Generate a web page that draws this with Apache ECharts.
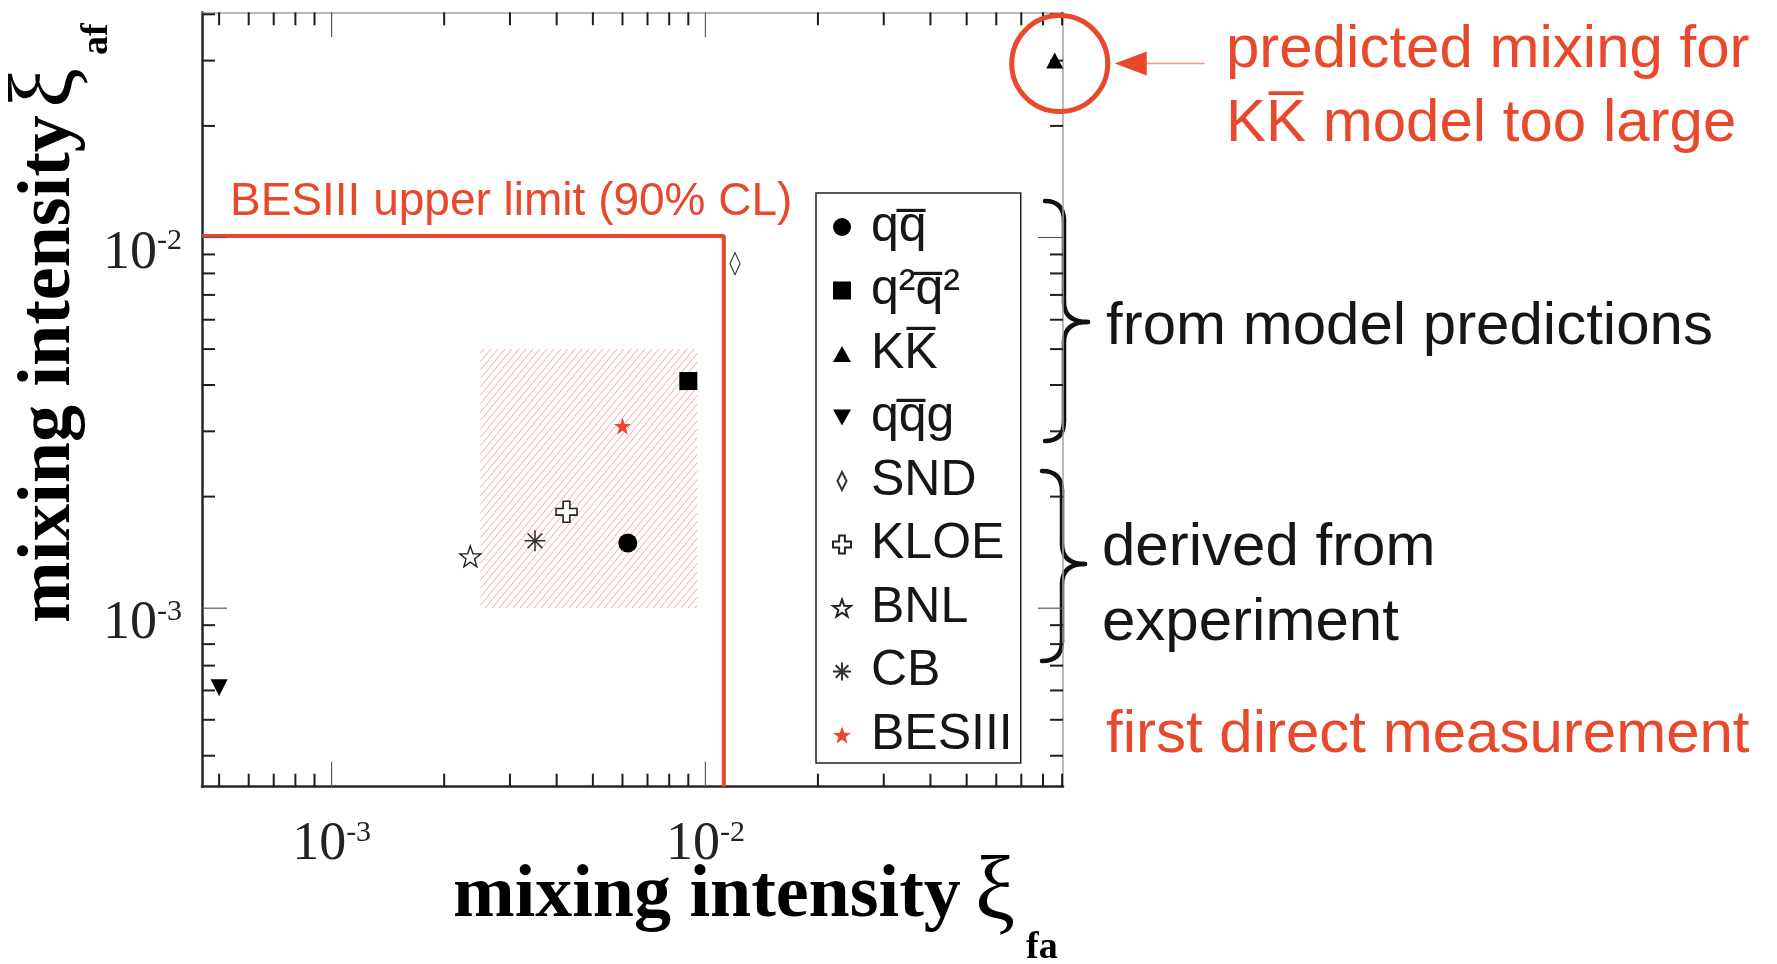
<!DOCTYPE html>
<html>
<head>
<meta charset="utf-8">
<title>Mixing intensities</title>
<script src="https://cdn.jsdelivr.net/npm/echarts@6/dist/echarts.min.js"></script>
<style>
  html, body { margin: 0; padding: 0; background: #ffffff; }
  #chart { width: 1777px; height: 964px; }
</style>
</head>
<body>
<div id="chart"></div>
<script>
// ---- values -------------------------------------------------------------
// legend names (model predictions first, then experiment-derived values)
const seriesNames = ['qq\u0305', 'q\u00b2q\u0305\u00b2', 'KK\u0305', 'qq\u0305g', 'SND', 'KLOE', 'BNL', 'CB', 'BESIII'];
// mixing intensity xi_fa (x) and xi_af (y) for each entry
const xiFa = [6.2e-3, 9.0e-3, 0.086, 5.0e-4, 0.0120, 4.25e-3, 2.35e-3, 3.5e-3, 6.0e-3];
const xiAf = [1.5e-3, 4.1e-3, 0.030, 6.1e-4, 8.5e-3, 1.82e-3, 1.38e-3, 1.52e-3, 3.1e-3];
// BESIII 90% CL upper limits
const limitXiFa = 0.0112;
const limitXiAf = 0.0101;
// BESIII measured region (hatched)
const bandXiFa = [2.5e-3, 9.5e-3];
const bandXiAf = [1.0e-3, 5.0e-3];
// axis ranges
const X_RANGE = [4.5e-4, 0.0905];
const Y_RANGE = [3.3e-4, 0.0405];
// tick positions on the log axes
const xTickValues = [5e-4, 6e-4, 7e-4, 8e-4, 9e-4, 1e-3, 2e-3, 3e-3, 4e-3, 5e-3, 6e-3, 7e-3, 8e-3, 9e-3,
                     1e-2, 2e-2, 3e-2, 4e-2, 5e-2, 6e-2, 7e-2, 8e-2, 9e-2];
const yTickValues = [4e-4, 5e-4, 6e-4, 7e-4, 8e-4, 9e-4, 1e-3, 2e-3, 3e-3, 4e-3, 5e-3, 6e-3, 7e-3, 8e-3, 9e-3,
                     1e-2, 2e-2, 3e-2, 4e-2];

// ---- styles -------------------------------------------------------------
const RED = '#e8482b';
const INK = '#161616';
const SANS = 'Liberation Sans';
const SERIF = 'Liberation Serif';

const STAR = 'path://M50,0 L61.76,33.82 L97.55,34.55 L69.02,56.18 L79.39,90.45 L50,70 L20.61,90.45 L30.98,56.18 L2.45,34.55 L38.24,33.82 Z';
const CROSS = 'path://M34,0 L66,0 L66,34 L100,34 L100,66 L66,66 L66,100 L34,100 L34,66 L0,66 L0,34 L34,34 Z';
const ASTER = 'path://M50,0 L50,100 M0,50 L100,50 M15,15 L85,85 M85,15 L15,85';
const SQUARE = 'path://M0,0 L100,0 L100,100 L0,100 Z';
const TRI = 'path://M50,0 L100,90 L0,90 Z';
const INV_TRI = 'path://M0,0 L100,0 L50,90 Z';
const THIN_DIAMOND = 'path://M25,0 L50,50 L25,100 L0,50 Z';

const markerStyles = [
  { symbol: 'circle',     size: 19,       fill: '#000' },
  { symbol: SQUARE,       size: 18,       fill: '#000' },
  { symbol: TRI,          size: [17, 16], fill: '#000' },
  { symbol: INV_TRI,      size: [17, 17], fill: '#000' },
  { symbol: THIN_DIAMOND, size: [10, 22], fill: '#fff', stroke: '#333', width: 1.3 },
  { symbol: CROSS,        size: 21,       fill: '#fff', stroke: '#222', width: 1.6 },
  { symbol: STAR,         size: 21,       fill: '#fff', stroke: '#222', width: 1.4 },
  { symbol: ASTER,        size: 21,       fill: 'transparent', stroke: '#333', width: 1.6 },
  { symbol: STAR,         size: 17,       fill: RED }
];

function isDecade(v) {
  const e = Math.log10(v);
  return Math.abs(e - Math.round(e)) < 1e-6;
}

function decadeLabel(v) {
  if (!isDecade(v)) return '';
  return '{b|10}{s|' + Math.round(Math.log10(v)) + '}';
}

const tickRich = {
  b: { fontFamily: SERIF, fontSize: 54, lineHeight: 54, color: '#222', verticalAlign: 'bottom' },
  s: { fontFamily: SERIF, fontSize: 30, lineHeight: 30, color: '#222', verticalAlign: 'top' }
};

// ---- chart --------------------------------------------------------------
const chart = echarts.init(document.getElementById('chart'), null, { renderer: 'canvas' });

const scatterSeries = seriesNames.map((name, i) => {
  const m = markerStyles[i];
  return {
    type: 'scatter',
    name: name,
    data: [[xiFa[i], xiAf[i]]],
    symbol: m.symbol,
    symbolSize: m.size,
    itemStyle: {
      color: m.fill,
      borderColor: m.stroke || m.fill,
      borderWidth: m.stroke ? m.width : 0,
      opacity: 1
    },
    z: 6,
    silent: true
  };
});

const option = {
  backgroundColor: '#ffffff',
  animation: false,
  grid: { left: 202, right: 714, top: 12.3, bottom: 177.3, containLabel: false, outerBoundsMode: 'none' },
  xAxis: [
    {
      type: 'log', logBase: 10, min: X_RANGE[0], max: X_RANGE[1], position: 'bottom',
      axisLine: { show: true, onZero: false, lineStyle: { color: '#262626', width: 2.5 } },
      axisTick: { show: false }, minorTick: { show: false }, splitLine: { show: false },
      axisLabel: { formatter: decadeLabel, margin: 31, fontFamily: SERIF, fontSize: 54, color: '#222', rich: tickRich }
    },
    {
      type: 'log', logBase: 10, min: X_RANGE[0], max: X_RANGE[1], position: 'top',
      axisLine: { show: true, onZero: false, lineStyle: { color: '#a3a3a3', width: 1.5 } },
      axisTick: { show: false }, axisLabel: { show: false }, splitLine: { show: false }
    }
  ],
  yAxis: [
    {
      type: 'log', logBase: 10, min: Y_RANGE[0], max: Y_RANGE[1], position: 'left',
      axisLine: { show: true, onZero: false, lineStyle: { color: '#262626', width: 2.5 } },
      axisTick: { show: false }, minorTick: { show: false }, splitLine: { show: false },
      axisLabel: { formatter: decadeLabel, margin: 20, padding: [32, 0, 0, 0], fontFamily: SERIF, fontSize: 54, color: '#222', rich: tickRich }
    },
    {
      type: 'log', logBase: 10, min: Y_RANGE[0], max: Y_RANGE[1], position: 'right',
      axisLine: { show: true, onZero: false, lineStyle: { color: '#a3a3a3', width: 1.5 } },
      axisTick: { show: false }, axisLabel: { show: false }, splitLine: { show: false }
    }
  ],
  legend: {
    orient: 'vertical',
    left: 816, top: 193,
    padding: [9, 8, 3, 16],
    itemGap: 13.5,
    itemWidth: 18, itemHeight: 18,
    selectedMode: false,
    backgroundColor: '#ffffff',
    borderColor: '#222', borderWidth: 1.5, borderRadius: 0,
    textStyle: { fontFamily: SANS, fontSize: 50, lineHeight: 50, color: INK, padding: [0, 0, 0, 15] },
    data: seriesNames.map((name, i) => ({ name: name, icon: markerStyles[i].symbol }))
  },
  series: [
    // hatched BESIII region
    {
      type: 'custom', name: 'band', silent: true, z: 1,
      encode: { x: [0, 2], y: [1, 3] },
      data: [[bandXiFa[0], bandXiAf[0], bandXiFa[1], bandXiAf[1]]],
      renderItem: (params, api) => {
        const p0 = api.coord([api.value(0), api.value(1)]);
        const p1 = api.coord([api.value(2), api.value(3)]);
        const L = Math.min(p0[0], p1[0]), R = Math.max(p0[0], p1[0]);
        const T = Math.min(p0[1], p1[1]), B = Math.max(p0[1], p1[1]);
        const k = 1.2, gap = 7;
        const children = [];
        for (let c = T + k * L + gap * k * 0.5; c < B + k * R; c += gap * k) {
          const xa = Math.max(L, (c - B) / k);
          const xb = Math.min(R, (c - T) / k);
          if (xb <= xa) continue;
          children.push({
            type: 'line',
            shape: { x1: xa, y1: c - k * xa, x2: xb, y2: c - k * xb },
            style: { stroke: 'rgba(236,110,96,0.6)', lineWidth: 1 }
          });
        }
        return { type: 'group', children: children };
      }
    },
    // BESIII upper limit
    {
      type: 'line', name: 'limit', silent: true, z: 3, clip: false,
      symbol: 'none', showSymbol: false,
      lineStyle: { color: RED, width: 4 },
      data: [[X_RANGE[0], limitXiAf], [limitXiFa, limitXiAf], [limitXiFa, Y_RANGE[0]]]
    },
    // ticks along bottom and top
    {
      type: 'custom', name: 'xticks', silent: true, z: 4,
      data: xTickValues.map(v => [v, Y_RANGE[0]]),
      renderItem: (params, api) => {
        const cs = params.coordSys;
        const v = api.value(0);
        const px = api.coord([v, Y_RANGE[0]])[0];
        const major = isDecade(v);
        const len = major ? 25 : 13;
        const style = major ? { stroke: '#5a5a5a', lineWidth: 1.2 } : { stroke: '#1e1e1e', lineWidth: 2 };
        const yb = cs.y + cs.height, yt = cs.y;
        return { type: 'group', children: [
          { type: 'line', shape: { x1: px, y1: yb, x2: px, y2: yb - len }, style: style },
          { type: 'line', shape: { x1: px, y1: yt, x2: px, y2: yt + len }, style: style }
        ] };
      }
    },
    // ticks along left and right
    {
      type: 'custom', name: 'yticks', silent: true, z: 4,
      data: yTickValues.map(v => [X_RANGE[0], v]),
      renderItem: (params, api) => {
        const cs = params.coordSys;
        const v = api.value(1);
        const py = api.coord([X_RANGE[0], v])[1];
        const major = isDecade(v);
        const len = major ? 25 : 13;
        const style = major ? { stroke: '#5a5a5a', lineWidth: 1.2 } : { stroke: '#1e1e1e', lineWidth: 2 };
        const xl = cs.x, xr = cs.x + cs.width;
        return { type: 'group', children: [
          { type: 'line', shape: { x1: xl, y1: py, x2: xl + len, y2: py }, style: style },
          { type: 'line', shape: { x1: xr, y1: py, x2: xr - len, y2: py }, style: style }
        ] };
      }
    }
  ].concat(scatterSeries)
};

chart.setOption(option);

// ---- annotations --------------------------------------------------------
function txt(text, x, y, size, color, weight, family) {
  return {
    type: 'text', x: x, y: y, silent: true, z: 50,
    style: {
      text: text, fill: color, fontSize: size, fontFamily: family || SANS, fontWeight: weight || 'normal',
      textAlign: 'left', verticalAlign: 'middle', textVerticalAlign: 'middle'
    }
  };
}

// curly brace opening to the left, tip pointing right
function brace(x0, y0, y1, xs, xt, ym) {
  const r = 20;
  const st = { fill: 'none', stroke: '#111', lineWidth: 4.5, lineCap: 'round' };
  const q = (x1, y1, cx, cy, x2, y2) => ({ type: 'bezierCurve', shape: { x1: x1, y1: y1, cpx1: cx, cpy1: cy, x2: x2, y2: y2 }, style: st });
  const l = (x1, y1, x2, y2) => ({ type: 'line', shape: { x1: x1, y1: y1, x2: x2, y2: y2 }, style: st });
  return {
    type: 'group', silent: true, z: 50,
    children: [
      q(x0, y0, xs, y0, xs, y0 + r),
      l(xs, y0 + r, xs, ym - r),
      q(xs, ym - r, xs, ym, xt, ym),
      q(xt, ym, xs, ym, xs, ym + r),
      l(xs, ym + r, xs, y1 - r),
      q(xs, y1 - r, xs, y1, x0, y1)
    ]
  };
}

// circle around the K-Kbar prediction
const kk = chart.convertToPixel({ gridIndex: 0 }, [xiFa[2], xiAf[2]]);
const cx = kk[0] + 5, cy = kk[1] + 3;

const graphics = [
  // axis titles
  txt('mixing intensity', 453, 897, 74, '#000', 'bold', SERIF),
  txt('\u03be', 975, 895, 90, '#000', 'normal', SERIF),
  txt('fa', 1026, 948, 38, '#000', 'bold', SERIF),
  {
    type: 'group', x: 75, y: 623, rotation: Math.PI / 2, silent: true, z: 50,
    children: [
      txt('mixing intensity', 0, -25, 74, '#000', 'bold', SERIF),
      txt('\u03be', 515, -27, 90, '#000', 'normal', SERIF),
      txt('af', 568, 22, 38, '#000', 'bold', SERIF)
    ]
  },
  // limit label
  txt('BESIII upper limit (90% CL)', 230, 202, 46, RED),
  // K-Kbar callout
  {
    type: 'circle', silent: true, z: 50,
    shape: { cx: cx, cy: cy, r: 48 },
    style: { fill: 'none', stroke: RED, lineWidth: 5 }
  },
  {
    type: 'polygon', silent: true, z: 50,
    shape: { points: [[cx + 55, cy], [cx + 87, cy - 12], [cx + 87, cy + 12]] },
    style: { fill: RED }
  },
  {
    type: 'line', silent: true, z: 50,
    shape: { x1: cx + 86, y1: cy, x2: cx + 145, y2: cy },
    style: { stroke: 'rgba(232,72,43,0.55)', lineWidth: 1.5 }
  },
  txt('predicted mixing for', 1226, 50, 60, RED),
  txt('KK\u0305 model too large', 1226, 124, 60, RED),
  // group braces and captions
  brace(1045, 201, 441, 1064, 1088, 322),
  brace(1042, 471, 661, 1062, 1085, 564),
  txt('from model predictions', 1106, 327, 60, INK),
  txt('derived from', 1102, 548, 60, INK),
  txt('experiment', 1102, 623, 60, INK),
  txt('first direct measurement', 1106, 735, 60, RED)
];

chart.setOption({ graphic: graphics });
</script>
</body>
</html>
